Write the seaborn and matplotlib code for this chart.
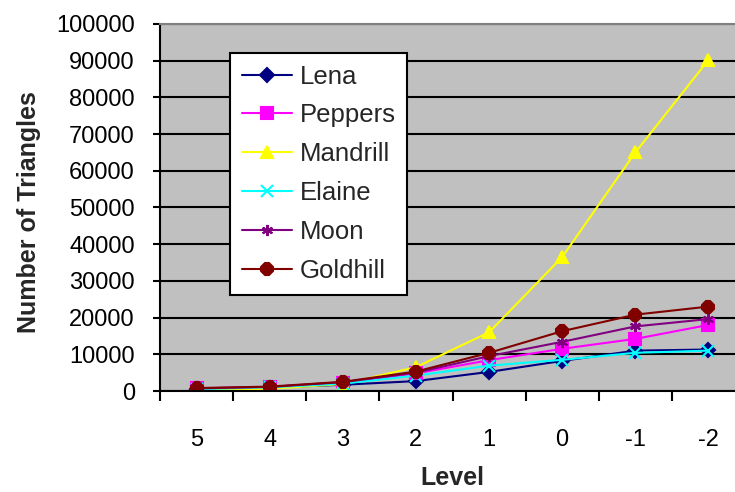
import matplotlib
matplotlib.use("Agg")
import matplotlib.pyplot as plt
from matplotlib.ticker import FixedLocator, NullFormatter
import seaborn as sns
import pandas as pd

levels = ["5", "4", "3", "2", "1", "0", "-1", "-2"]
lena = [500, 900, 1700, 2700, 5200, 8200, 11000, 11300]
peppers = [700, 1100, 2300, 4800, 8400, 11500, 14200, 18000]
mandrill = [250, 600, 1900, 6500, 16000, 36500, 65000, 90200]
elaine = [500, 1000, 2000, 4200, 6900, 8500, 10400, 11000]
moon = [700, 1100, 2400, 5000, 9500, 13400, 17600, 19600]
goldhill = [800, 1200, 2500, 5300, 10400, 16300, 20800, 23000]

series_names = ["Lena", "Peppers", "Mandrill", "Elaine", "Moon", "Goldhill"]
series_values = [lena, peppers, mandrill, elaine, moon, goldhill]

colors = {"Lena": "#000080", "Peppers": "#FF00FF", "Mandrill": "#FFFF00",
          "Elaine": "#00FFFF", "Moon": "#800080", "Goldhill": "#800000"}
markers = {"Lena": "D", "Peppers": "s", "Mandrill": "^",
           "Elaine": "x", "Moon": (6, 2, 0), "Goldhill": "8"}
msizes = {"Lena": 7, "Peppers": 8, "Mandrill": 9, "Elaine": 8, "Moon": 8, "Goldhill": 9}

rows = []
for name, vals in zip(series_names, series_values):
    for lv, v in zip(levels, vals):
        rows.append({"Level": lv, "Triangles": v, "Series": name})
df = pd.DataFrame(rows)

sns.set_style("white")
plt.rcParams["font.family"] = ["Liberation Sans", "DejaVu Sans"]

fig = plt.figure(figsize=(7.35, 4.92), dpi=100)
fig.patch.set_facecolor("white")
W, H = 735, 492
ax = fig.add_axes([160 / W, 1 - 391 / H, 585 / W, 367 / H])
ax.set_facecolor("#C0C0C0")

for name in series_names:
    sub = df[df["Series"] == name]
    sns.lineplot(data=sub, x="Level", y="Triangles", ax=ax, color=colors[name],
                 marker=markers[name], markersize=msizes[name],
                 markeredgecolor=colors[name], markerfacecolor=colors[name],
                 markeredgewidth=1.5, linewidth=1.5, label=name, sort=False)

ax.set_xlim(-0.5, 7.5)
ax.set_ylim(0, 100000)
ax.set_yticks(range(0, 100001, 10000))
ax.yaxis.grid(True, color="black", linewidth=1.5)
ax.xaxis.grid(False)
ax.set_axisbelow(True)

ax.set_xticks(range(len(levels)))
ax.set_xticklabels(levels)
ax.xaxis.set_minor_locator(FixedLocator([i + 0.5 for i in range(-1, 8)]))
ax.xaxis.set_minor_formatter(NullFormatter())
ax.tick_params(axis="x", which="major", length=0, pad=27, labelsize=17, colors="black")
ax.tick_params(axis="x", which="minor", length=7, width=1.5, direction="out",
               color="black", bottom=True)
ax.tick_params(axis="y", which="major", length=5, width=1.5, direction="out",
               pad=13, labelsize=17, colors="black", left=True)

for s in ["left", "bottom"]:
    ax.spines[s].set_color("black")
    ax.spines[s].set_linewidth(1.5)
ax.spines["top"].set_color("#808080")
ax.spines["top"].set_linewidth(1.5)
ax.spines["right"].set_visible(False)

ax.set_xlabel("Level", fontsize=18, fontweight="bold")
ax.set_ylabel("Number of Triangles", fontsize=18, fontweight="bold")
ax.xaxis.set_label_coords(0.5, -0.203)
ax.yaxis.set_label_coords(-0.204, 0.488)

leg = ax.legend(loc="upper left", bbox_to_anchor=(230 / W, 1 - 53 / H),
                bbox_transform=fig.transFigure, borderaxespad=0,
                fontsize=18.5, frameon=True, fancybox=False, framealpha=1,
                handlelength=1.95, handletextpad=0.3, labelspacing=0.58,
                borderpad=0.45)
leg.get_frame().set_edgecolor("black")
leg.get_frame().set_linewidth(1.5)
leg.get_frame().set_facecolor("white")

fig.savefig("out.png", dpi=100)
